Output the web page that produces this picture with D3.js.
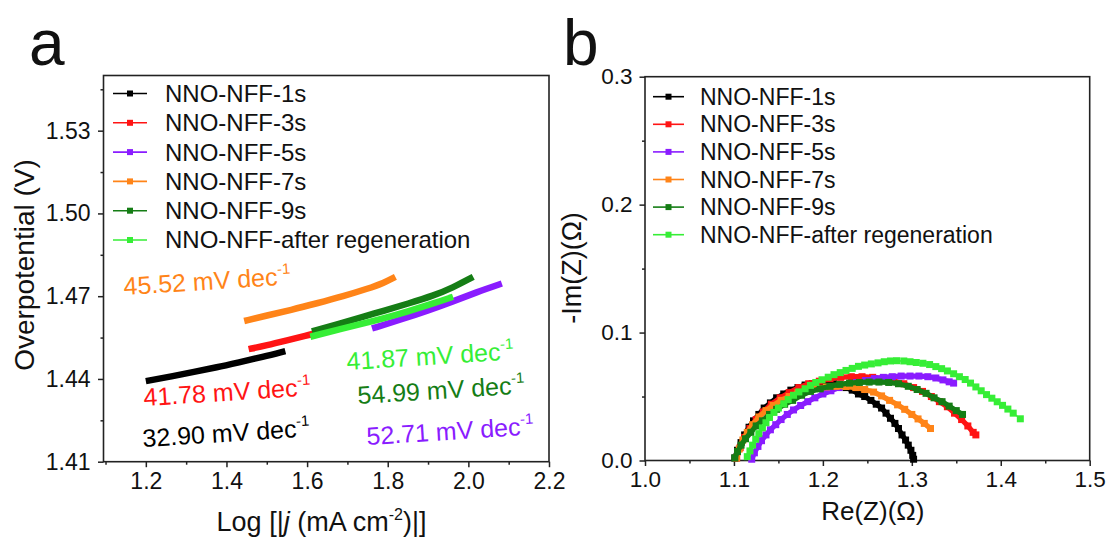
<!DOCTYPE html>
<html>
<head>
<meta charset="utf-8">
<script src="https://cdn.jsdelivr.net/npm/d3@7"></script>
<style>
  html, body { margin: 0; padding: 0; background: #fff; }
  svg { display: block; font-family: "Liberation Sans", Arial, Helvetica, sans-serif; }
</style>
</head>
<body>
<svg id="chart" width="1109" height="540"></svg>
<script>
// ---------- data ----------
const seriesNames = ["NNO-NFF-1s", "NNO-NFF-3s", "NNO-NFF-5s", "NNO-NFF-7s", "NNO-NFF-9s", "NNO-NFF-after regeneration"];

// Tafel plots: [log |j|, overpotential (V)]
const tafel1s = [[1.200, 1.4392], [1.260, 1.4408], [1.320, 1.4426], [1.376, 1.4442], [1.430, 1.4460], [1.490, 1.4480], [1.546, 1.4501]];
const tafel3s = [[1.455, 1.4508], [1.500, 1.4522], [1.550, 1.4540], [1.600, 1.4558], [1.620, 1.4566]];
const tafel5s = [[1.761, 1.4583], [1.830, 1.4614], [1.900, 1.4648], [1.960, 1.4680], [2.020, 1.4714], [2.083, 1.4746]];
const tafel7s = [[1.444, 1.4610], [1.500, 1.4630], [1.560, 1.4650], [1.624, 1.4674], [1.690, 1.4700], [1.750, 1.4727], [1.790, 1.4748], [1.819, 1.4770]];
const tafel9s = [[1.612, 1.4572], [1.680, 1.4600], [1.740, 1.4626], [1.790, 1.4647], [1.850, 1.4673], [1.914, 1.4702], [1.960, 1.4730], [2.012, 1.4770]];
const tafelRegen = [[1.608, 1.4553], [1.680, 1.4580], [1.750, 1.4605], [1.790, 1.4620], [1.850, 1.4645], [1.910, 1.4672], [1.962, 1.4698]];
const tafelSlopes = ["32.90", "41.78", "52.71", "45.52", "54.99", "41.87"];

// Nyquist plots: [Re(Z), -Im(Z)] in ohm
const eis1s = [[1.101,0.002],[1.104,0.008],[1.108,0.014],[1.112,0.020],[1.117,0.026],[1.122,0.031],[1.128,0.036],[1.134,0.041],[1.141,0.045],[1.148,0.049],[1.156,0.052],[1.164,0.055],[1.172,0.057],[1.180,0.059],[1.188,0.060],[1.196,0.061],[1.204,0.061],[1.212,0.060],[1.219,0.059],[1.226,0.057],[1.233,0.055],[1.240,0.052],[1.247,0.050],[1.254,0.047],[1.260,0.044],[1.266,0.041],[1.271,0.037],[1.276,0.033],[1.281,0.029],[1.285,0.025],[1.289,0.020],[1.293,0.016],[1.296,0.012],[1.299,0.008],[1.301,0.004],[1.302,0.001]];
const eis3s = [[1.103,0.002],[1.107,0.010],[1.112,0.018],[1.118,0.025],[1.125,0.032],[1.133,0.038],[1.142,0.044],[1.152,0.049],[1.162,0.053],[1.173,0.057],[1.184,0.060],[1.196,0.062],[1.208,0.064],[1.220,0.065],[1.232,0.0655],[1.244,0.0655],[1.256,0.065],[1.268,0.064],[1.280,0.062],[1.291,0.060],[1.302,0.057],[1.312,0.054],[1.322,0.050],[1.331,0.046],[1.340,0.042],[1.348,0.037],[1.356,0.032],[1.363,0.027],[1.369,0.022],[1.372,0.020]];
const eis5s = [[1.120,0.001],[1.123,0.006],[1.127,0.011],[1.131,0.0155],[1.136,0.020],[1.141,0.024],[1.147,0.028],[1.153,0.032],[1.160,0.036],[1.167,0.0395],[1.175,0.043],[1.183,0.046],[1.191,0.049],[1.200,0.052],[1.209,0.0545],[1.218,0.057],[1.228,0.059],[1.238,0.061],[1.248,0.0625],[1.258,0.064],[1.268,0.065],[1.278,0.0655],[1.288,0.066],[1.298,0.066],[1.308,0.066],[1.318,0.0655],[1.327,0.0645],[1.335,0.063],[1.342,0.0615],[1.347,0.0605]];
const eis7s = [[1.103,0.002],[1.106,0.009],[1.110,0.016],[1.115,0.022],[1.121,0.028],[1.128,0.034],[1.136,0.039],[1.144,0.043],[1.153,0.047],[1.162,0.050],[1.172,0.053],[1.182,0.055],[1.193,0.0565],[1.204,0.0575],[1.215,0.058],[1.226,0.0578],[1.237,0.057],[1.247,0.0555],[1.257,0.0535],[1.266,0.0505],[1.275,0.047],[1.284,0.0435],[1.292,0.040],[1.300,0.036],[1.307,0.0325],[1.314,0.029],[1.321,0.025]];
const eis9s = [[1.101,0.002],[1.104,0.007],[1.108,0.012],[1.113,0.017],[1.119,0.022],[1.125,0.027],[1.132,0.031],[1.140,0.036],[1.148,0.040],[1.157,0.044],[1.166,0.047],[1.176,0.051],[1.186,0.054],[1.197,0.056],[1.208,0.058],[1.219,0.0595],[1.230,0.0605],[1.241,0.061],[1.252,0.0613],[1.263,0.0613],[1.274,0.061],[1.285,0.060],[1.296,0.058],[1.306,0.0555],[1.316,0.0525],[1.325,0.049],[1.334,0.046],[1.342,0.0425],[1.350,0.039],[1.357,0.036]];
const eisRegen = [[1.115,0.003],[1.118,0.0075],[1.121,0.012],[1.1245,0.0166],[1.128,0.021],[1.132,0.0255],[1.136,0.0295],[1.140,0.0336],[1.145,0.0376],[1.150,0.041],[1.156,0.0443],[1.161,0.0476],[1.167,0.051],[1.173,0.0536],[1.180,0.0561],[1.186,0.0587],[1.192,0.061],[1.199,0.0631],[1.206,0.0651],[1.2125,0.0671],[1.2195,0.0687],[1.226,0.0704],[1.233,0.072],[1.240,0.0736],[1.247,0.0746],[1.2545,0.0755],[1.262,0.0763],[1.269,0.0772],[1.276,0.0778],[1.283,0.078],[1.291,0.0778],[1.298,0.0772],[1.305,0.0766],[1.3125,0.076],[1.320,0.075],[1.327,0.0734],[1.3335,0.0718],[1.340,0.070],[1.347,0.0678],[1.3535,0.0655],[1.360,0.0633],[1.366,0.0605],[1.372,0.0575],[1.378,0.0545],[1.384,0.0515],[1.390,0.0487],[1.396,0.0459],[1.402,0.0431],[1.408,0.0402],[1.414,0.037],[1.422,0.0326]];

// axis ticks
const tafelXTicks = [1.2, 1.4, 1.6, 1.8, 2.0, 2.2];
const tafelXMinor = [1.1, 1.3, 1.5, 1.7, 1.9, 2.1];
const tafelYTicks = [1.41, 1.44, 1.47, 1.50, 1.53];
const tafelYMinor = [1.425, 1.455, 1.485, 1.515, 1.545];
const eisXTicks = [1.0, 1.1, 1.2, 1.3, 1.4, 1.5];
const eisXMinor = [1.05, 1.15, 1.25, 1.35, 1.45];
const eisYTicks = [0.0, 0.1, 0.2, 0.3];
const eisYMinor = [0.05, 0.15, 0.25];

// ---------- styling ----------
const colors = ["#000000", "#ff1414", "#8a1cff", "#ff8418", "#157d15", "#36ee36"];
const tafelSets = [tafel1s, tafel3s, tafel5s, tafel7s, tafel9s, tafelRegen];
const eisSets = [eis1s, eis3s, eis5s, eis7s, eis9s, eisRegen];

const svg = d3.select("#chart");

function drawFrame(g, x, y, opt) {
  const [x0, x1] = x.range();
  const [y0, y1] = y.range();
  // minor ticks
  g.append("g").attr("transform", `translate(0,${y0})`)
    .call(d3.axisBottom(x).tickValues(opt.xMinor.filter(v => x(v) >= x0 - 0.5)).tickSize(3).tickSizeOuter(0).tickFormat(""))
    .call(a => a.select(".domain").remove());
  g.append("g").attr("transform", `translate(${x0},0)`)
    .call(d3.axisLeft(y).tickValues(opt.yMinor).tickSize(3).tickSizeOuter(0).tickFormat(""))
    .call(a => a.select(".domain").remove());
  // major ticks with labels
  const gx = g.append("g").attr("transform", `translate(0,${y0})`)
    .call(d3.axisBottom(x).tickValues(opt.xTicks).tickSize(5.5).tickSizeOuter(0)
      .tickPadding(opt.xPad).tickFormat(d3.format(".1f")));
  const gy = g.append("g").attr("transform", `translate(${x0},0)`)
    .call(d3.axisLeft(y).tickValues(opt.yTicks).tickSize(5.5).tickSizeOuter(0)
      .tickPadding(opt.yPad).tickFormat(d3.format(opt.yFmt)));
  [gx, gy].forEach(a => {
    a.select(".domain").remove();
    a.selectAll("text").attr("font-size", opt.tickFont).attr("fill", "#111")
      .attr("font-family", '"Liberation Sans", Arial, sans-serif');
  });
  g.selectAll(".tick line").attr("stroke", "#222").attr("stroke-width", 1.5);
  // box
  g.append("rect")
    .attr("x", x0).attr("y", y1).attr("width", x1 - x0).attr("height", y0 - y1)
    .attr("fill", "none").attr("stroke", "#222").attr("stroke-width", 1.6);
}

function drawLegend(g, x0, y0, step, fontSize, lineX) {
  seriesNames.forEach((name, i) => {
    const yy = y0 + i * step;
    g.append("line").attr("x1", lineX[0]).attr("x2", lineX[1]).attr("y1", yy).attr("y2", yy)
      .attr("stroke", colors[i]).attr("stroke-width", 1.6);
    g.append("rect").attr("x", (lineX[0] + lineX[1]) / 2 - 3).attr("y", yy - 3)
      .attr("width", 6).attr("height", 6).attr("fill", colors[i]);
    g.append("text").attr("x", x0).attr("y", yy).attr("dy", "0.35em")
      .attr("font-size", fontSize).attr("fill", "#111").text(name);
  });
}

// ---------- panel a: Tafel ----------
const xA = d3.scaleLinear().domain([1.095, 2.2]).range([103.5, 549]);
const yA = d3.scaleLinear().domain([1.41, 1.55]).range([461.7, 75.5]);
const gA = svg.append("g");

drawFrame(gA, xA, yA, {
  xTicks: tafelXTicks, xMinor: tafelXMinor, yTicks: tafelYTicks, yMinor: tafelYMinor,
  xPad: 5.5, yPad: 7.5, yFmt: ".2f", tickFont: 23
});

const tafelLine = d3.line().x(d => xA(d[0])).y(d => yA(d[1])).curve(d3.curveBasis);
tafelSets.forEach((pts, i) => {
  gA.append("path").attr("d", tafelLine(pts)).attr("fill", "none")
    .attr("stroke", colors[i]).attr("stroke-width", 6.5).attr("stroke-linecap", "butt");
});

drawLegend(gA, 165, 93.5, 29.3, 24, [113, 147]);

// slope annotations: series index -> anchor
const slopeLabelPos = [
  { i: 0, x: 143, y: 447 },
  { i: 1, x: 144, y: 406 },
  { i: 2, x: 367, y: 445 },
  { i: 3, x: 124, y: 295 },
  { i: 4, x: 358, y: 404 },
  { i: 5, x: 347, y: 370 }
];
slopeLabelPos.forEach(p => {
  const t = gA.append("text")
    .attr("transform", `translate(${p.x},${p.y}) rotate(-3.6)`)
    .attr("font-size", 25).attr("fill", colors[p.i]);
  t.append("tspan").text(`${tafelSlopes[p.i]} mV dec`);
  t.append("tspan").attr("font-size", 15).attr("dy", -11).text("-1");
});

// axis titles a
gA.append("text").attr("transform", "translate(34,265) rotate(-90)")
  .attr("text-anchor", "middle").attr("font-size", 28).attr("fill", "#111")
  .text("Overpotential (V)");
const xtA = gA.append("text").attr("x", 321.5).attr("y", 531)
  .attr("text-anchor", "middle").attr("font-size", 27).attr("fill", "#111");
xtA.append("tspan").text("Log [|");
xtA.append("tspan").attr("font-style", "italic").text("j");
xtA.append("tspan").text(" (mA cm");
xtA.append("tspan").attr("font-size", 16).attr("dy", -11).text("-2");
xtA.append("tspan").attr("dy", 11).text(")|]");

gA.append("text").attr("x", 29).attr("y", 65).attr("font-size", 64).attr("fill", "#111").text("a");

// ---------- panel b: Nyquist ----------
const xB = d3.scaleLinear().domain([1.0, 1.5]).range([645, 1089.7]);
const yB = d3.scaleLinear().domain([0, 0.3]).range([460.5, 76.7]);
const gB = svg.append("g");

drawFrame(gB, xB, yB, {
  xTicks: eisXTicks, xMinor: eisXMinor, yTicks: eisYTicks, yMinor: eisYMinor,
  xPad: 5, yPad: 7, yFmt: ".1f", tickFont: 22.5
});

const eisLine = d3.line().x(d => xB(d[0])).y(d => yB(d[1]));
eisSets.forEach((pts, i) => {
  const sg = gB.append("g");
  sg.append("path").attr("d", eisLine(pts)).attr("fill", "none")
    .attr("stroke", colors[i]).attr("stroke-width", i === 5 ? 1.4 : 5.2);
  sg.selectAll("rect").data(pts).join("rect")
    .attr("x", d => xB(d[0]) - 3.5).attr("y", d => yB(d[1]) - 3.5)
    .attr("width", 7).attr("height", 7).attr("fill", colors[i]);
});

drawLegend(gB, 700, 96.7, 27.6, 23, [653, 684]);

gB.append("text").attr("transform", "translate(581,268) rotate(-90)")
  .attr("text-anchor", "middle").attr("font-size", 27).attr("fill", "#111")
  .text("-Im(Z)(Ω)");
gB.append("text").attr("x", 872.8).attr("y", 519.5)
  .attr("text-anchor", "middle").attr("font-size", 26).attr("fill", "#111")
  .text("Re(Z)(Ω)");

gB.append("text").attr("x", 563).attr("y", 65).attr("font-size", 64).attr("fill", "#111").text("b");
</script>
</body>
</html>
